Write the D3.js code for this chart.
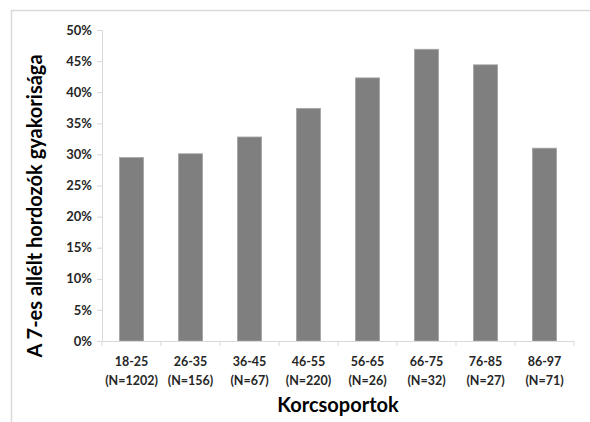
<!DOCTYPE html>
<html><head><meta charset="utf-8">
<script src="https://cdn.jsdelivr.net/npm/d3@7"></script>
<style>body{margin:0;background:#fff;} svg{display:block;}</style>
</head><body>
<script>
const categories = ["18-25","26-35","36-45","46-55","56-65","66-75","76-85","86-97"];
const sampleSizes = ["(N=1202)","(N=156)","(N=67)","(N=220)","(N=26)","(N=32)","(N=27)","(N=71)"];
const values = [0.295, 0.301, 0.328, 0.374, 0.423, 0.469, 0.444, 0.310];
const yTicks = [0,0.05,0.10,0.15,0.20,0.25,0.30,0.35,0.40,0.45,0.50];
const yTitle = "A 7-es allélt hordozók gyakorisága";
const xTitle = "Korcsoportok";

const W = 590, H = 422;
const m = {left:102, right:16, top:30, bottom:81};
const svg = d3.select("body").append("svg").attr("width",W).attr("height",H);
const font = "Lato, 'Open Sans', sans-serif";

// frame
svg.append("line").attr("x1",11).attr("x2",W).attr("y1",10.5).attr("y2",10.5).attr("stroke","#d9d9d9").attr("stroke-width",1.5);
svg.append("line").attr("x1",11.5).attr("x2",11.5).attr("y1",10).attr("y2",H).attr("stroke","#d9d9d9").attr("stroke-width",1.5);

const x = d3.scaleBand().domain(categories).range([m.left, W-m.right]).paddingInner(0.59).paddingOuter(0.295);
const y = d3.scaleLinear().domain([0,0.5]).range([H-m.bottom, m.top]);

// y axis
const ya = svg.append("g").attr("transform",`translate(${m.left},0)`)
  .call(d3.axisLeft(y).tickValues(yTicks).tickFormat(d3.format(".0%")).tickSize(5).tickPadding(5));
ya.select(".domain").attr("stroke","#d9d9d9");
ya.selectAll(".tick line").attr("stroke","#d9d9d9");
ya.selectAll(".tick text").attr("font-family",font).attr("font-weight","bold").attr("font-size",13).attr("fill","#262626");

// bars
svg.append("g").selectAll("rect").data(values).join("rect")
  .attr("x",(d,i)=>x(categories[i])).attr("width",x.bandwidth())
  .attr("y",d=>y(d)).attr("height",d=>y(0)-y(d))
  .attr("fill","#7f7f7f").attr("stroke","#a6a6a6").attr("stroke-width",0.8);

// x axis
const boundaries = d3.range(categories.length+1).map(i=>m.left + i*(W-m.right-m.left)/categories.length);
const xg = svg.append("g");
xg.append("line").attr("x1",m.left).attr("x2",W-m.right).attr("y1",y(0)+0.5).attr("y2",y(0)+0.5).attr("stroke","#d9d9d9");
xg.selectAll("line.t").data(boundaries).join("line").attr("class","t")
  .attr("x1",d=>d).attr("x2",d=>d).attr("y1",y(0)).attr("y2",y(0)+5).attr("stroke","#d9d9d9");
const lbl = xg.selectAll("text.c").data(categories).join("text").attr("class","c")
  .attr("x",d=>x(d)+x.bandwidth()/2).attr("text-anchor","middle")
  .attr("font-family",font).attr("font-weight","bold").attr("font-size",12.5).attr("fill","#262626");
lbl.append("tspan").attr("x",d=>x(d)+x.bandwidth()/2).attr("y",y(0)+25).text(d=>d);
lbl.append("tspan").attr("x",d=>x(d)+x.bandwidth()/2).attr("y",y(0)+44).text((d,i)=>sampleSizes[i]);

// titles
svg.append("text").attr("x",(m.left+W-m.right)/2).attr("y",412).attr("text-anchor","middle")
  .attr("font-family",font).attr("font-weight","bold").attr("font-size",20).attr("fill","#000").text(xTitle);
svg.append("text").attr("transform",`translate(42,206) rotate(-90)`).attr("text-anchor","middle")
  .attr("font-family",font).attr("font-weight","bold").attr("font-size",20).attr("fill","#000").text(yTitle);
</script>
</body></html>
